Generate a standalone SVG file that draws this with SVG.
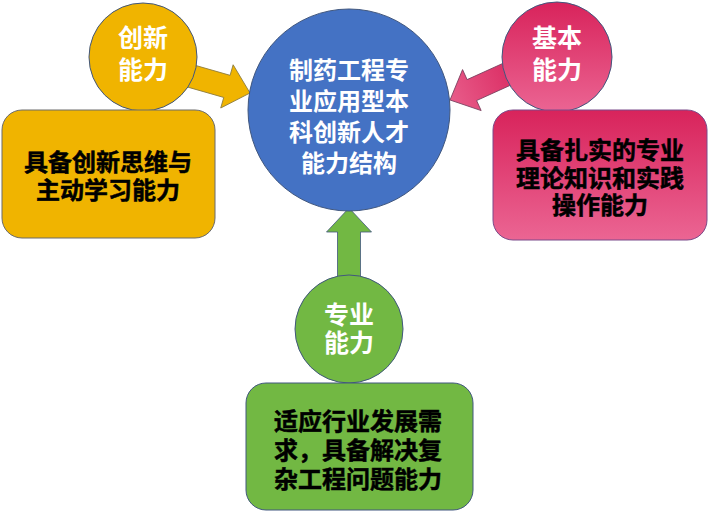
<svg xmlns="http://www.w3.org/2000/svg" width="709" height="512" viewBox="0 0 709 512">
<defs>
<linearGradient id="pink" x1="0" y1="0" x2="0" y2="1">
<stop offset="0" stop-color="#d8235b"/>
<stop offset="1" stop-color="#eb6593"/>
</linearGradient>
<linearGradient id="pinkA" x1="0" y1="0" x2="1" y2="0">
<stop offset="0" stop-color="#d8235b"/>
<stop offset="1" stop-color="#e85c8a"/>
</linearGradient>
<polygon id="arr" points="0,0 -24,-22.5 -24,-11.5 -85,-11.5 -85,11.5 -24,11.5 -24,22.5"/>
</defs>
<style>
text{font-family:"Noto Sans CJK SC","Noto Sans",sans-serif;font-weight:bold;text-anchor:middle}
.w{fill:#ffffff;font-size:24px}
.k{fill:#000000;stroke:#000000;stroke-width:0.5;font-size:24px}
.c{stroke:#41577e;stroke-width:1}
.b{stroke:#6b6b6b;stroke-width:1}
</style>
<rect width="709" height="512" fill="#ffffff"/>
<g id="connectors">
<use href="#arr" transform="translate(250,93) rotate(16)" fill="#f0b400" stroke="#8a7a40" stroke-width="0.8"/>
<use href="#arr" transform="translate(450,100) rotate(155.6)" fill="url(#pinkA)" stroke="#7a4060" stroke-width="0.8"/>
<use href="#arr" transform="translate(349,208) rotate(-90)" fill="#72b843" stroke="#41577e" stroke-width="0.8"/>
</g>
<g id="center">
<circle cx="349" cy="110" r="101" fill="#4472c4" class="c"/>
<text class="w" x="349" y="78.5">制药工程专</text>
<text class="w" x="349" y="109.5">业应用型本</text>
<text class="w" x="349" y="140.5">科创新人才</text>
<text class="w" x="349" y="171.5">能力结构</text>
</g>
<g id="innov">
<circle cx="143" cy="57" r="54" fill="#f0b400" class="c"/>
<text class="w" x="143" y="47" style="font-size:25px">创新</text>
<text class="w" x="143" y="79" style="font-size:25px">能力</text>
</g>
<g id="innovBox">
<rect x="2" y="110" width="213" height="128" rx="20" fill="#f0b400" class="b"/>
<text class="k" x="108" y="170.5">具备创新思维与</text>
<text class="k" x="108" y="198.5">主动学习能力</text>
</g>
<g id="basic">
<circle cx="557" cy="57" r="55" fill="url(#pink)" class="c"/>
<text class="w" x="557" y="47" style="font-size:25px">基本</text>
<text class="w" x="557" y="79" style="font-size:25px">能力</text>
</g>
<g id="basicBox">
<rect x="493" y="110" width="214" height="130" rx="20" fill="url(#pink)" stroke="#7a4a8a" stroke-width="1"/>
<text class="k" x="600" y="158.5">具备扎实的专业</text>
<text class="k" x="600" y="186.5">理论知识和实践</text>
<text class="k" x="600" y="213.5">操作能力</text>
</g>
<g id="prof">
<circle cx="349" cy="329" r="54" fill="#72b843" class="c"/>
<text class="w" x="349" y="324" style="font-size:25px">专业</text>
<text class="w" x="349" y="352" style="font-size:25px">能力</text>
</g>
<g id="profBox">
<rect x="246" y="383" width="227" height="127" rx="20" fill="#72b843" class="c"/>
<text class="k" x="358" y="429.5">适应行业发展需</text>
<text class="k" x="358" y="458.5">求，具备解决复</text>
<text class="k" x="358" y="487.5">杂工程问题能力</text>
</g>
</svg>
